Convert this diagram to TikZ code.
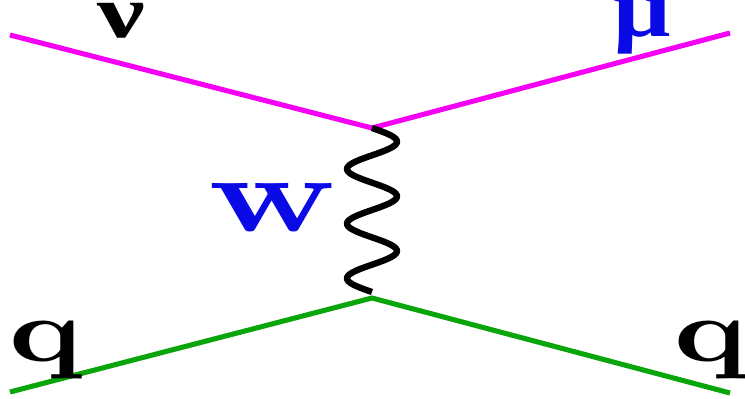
\documentclass[tikz,border=0pt]{standalone}
\usepackage{amsmath,amssymb}
\usepackage{graphicx}
\usepackage{fontspec}
\newfontfamily\grkfont{Liberation Serif}
\usepackage{tikz}
\usepackage{xcolor}
\definecolor{cmagenta}{RGB}{245,0,245}
\definecolor{cvert}{RGB}{10,165,10}
\definecolor{cbleu}{RGB}{10,10,230}

\begin{document}
\begin{tikzpicture}[x=0.025cm, y=-0.025cm,
  lepton/.style={line width=3.6pt, cmagenta},
  quark/.style={line width=3.6pt, cvert},
  boson/.style={line width=4.5pt},
  lbl/.style={inner sep=0pt, anchor=base}]
\useasboundingbox (0,0) rectangle (745,399);
\coordinate (nu) at (10,35); \coordinate (mu) at (730,33);
\coordinate (V1) at (372,128); \coordinate (V2) at (372,298);
\coordinate (qa) at (10,392); \coordinate (qb) at (730,393);
\draw[lepton] (nu) -- (V1) -- (mu);
\draw[quark] (qa) -- (V2) -- (qb);
% W line: three full waves down from V1
\draw[boson, shift={(V1)}] plot[domain=0:164, samples=121, smooth]
  ({25*sin(6.585*\x)}, {\x});
\node[lbl] (lnu) at (121,38) {\scalebox{7.6}[5.3]{\grkfont\bfseries ν}};
\node[lbl, cbleu] (lmu) at (642,37) {\scalebox{7.2}[5.9]{\grkfont\bfseries μ}};
\node[lbl, cbleu] (lW) at (272,232) {\scalebox{10.9}[7.7]{\textbf{w}}};
\foreach \n/\x in {lqa/46, lqb/711}
  {\node[lbl] (\n) at (\x,362) {\scalebox{8.6}[6.4]{\textbf{q}}};}
\end{tikzpicture}
\end{document}
